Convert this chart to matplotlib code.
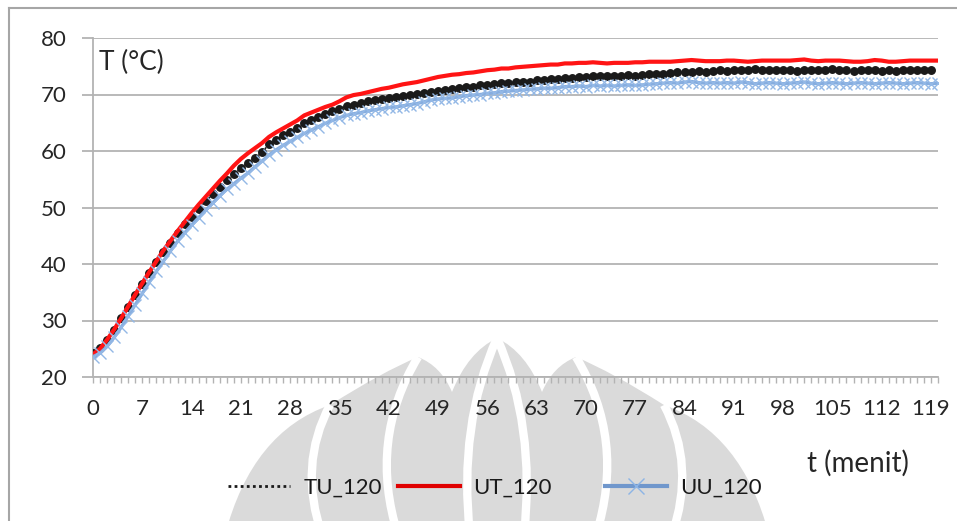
import matplotlib
matplotlib.use("Agg")
import matplotlib.pyplot as plt
from matplotlib.lines import Line2D
from matplotlib.patches import PathPatch
from matplotlib.path import Path
from matplotlib.ticker import FixedLocator, FuncFormatter

plt.rcParams['font.family'] = ['Lato', 'DejaVu Sans']

# Temperature readings (°C), one per minute
tu_120 = [
    24.2, 25.1, 26.6, 28.4, 30.4, 32.4, 34.5, 36.5, 38.4, 40.3,
    42.1, 43.8, 45.4, 47.0, 48.4, 49.8, 51.1, 52.4, 53.6, 54.8,
    55.9, 57.0, 57.9, 58.8, 59.8, 61.2, 62.0, 62.8, 63.4, 64.1,
    64.9, 65.4, 66.0, 66.5, 67.0, 67.5, 67.9, 68.2, 68.5, 68.8,
    69.0, 69.2, 69.4, 69.6, 69.8, 69.9, 70.1, 70.3, 70.5, 70.7,
    70.8, 71.0, 71.1, 71.3, 71.4, 71.6, 71.7, 71.9, 72.0, 72.1,
    72.2, 72.3, 72.3, 72.5, 72.6, 72.7, 72.8, 72.9, 73.0, 73.1,
    73.1, 73.2, 73.3, 73.3, 73.2, 73.3, 73.4, 73.3, 73.5, 73.6,
    73.7, 73.7, 73.8, 73.9, 73.9, 74.0, 74.1, 74.0, 74.2, 74.3,
    74.2, 74.3, 74.3, 74.4, 74.5, 74.3, 74.4, 74.3, 74.4, 74.3,
    74.2, 74.3, 74.4, 74.3, 74.4, 74.6, 74.4, 74.3, 74.2, 74.3,
    74.4, 74.3, 74.2, 74.3, 74.2, 74.3, 74.3, 74.4, 74.3, 74.4,
]
ut_120 = [
    24.0, 25.0, 26.6, 28.4, 30.4, 32.5, 34.6, 36.6, 38.6, 40.5,
    42.4, 44.1, 45.8, 47.4, 49.0, 50.5, 51.9, 53.3, 54.7, 56.0,
    57.4, 58.6, 59.6, 60.5, 61.4, 62.5, 63.3, 64.0, 64.7, 65.4,
    66.3, 66.8, 67.3, 67.8, 68.2, 68.8, 69.5, 69.9, 70.1, 70.4,
    70.7, 71.0, 71.2, 71.5, 71.8, 72.0, 72.2, 72.5, 72.8, 73.1,
    73.3, 73.5, 73.6, 73.8, 73.9, 74.1, 74.3, 74.4, 74.6, 74.6,
    74.8, 74.9, 75.0, 75.1, 75.2, 75.3, 75.3, 75.5, 75.5, 75.6,
    75.6, 75.7, 75.6, 75.5, 75.6, 75.6, 75.6, 75.7, 75.7, 75.8,
    75.8, 75.8, 75.8, 75.9, 76.0, 76.1, 76.0, 75.9, 75.9, 75.9,
    76.0, 76.0, 75.9, 75.8, 75.9, 76.0, 76.0, 76.0, 76.0, 76.0,
    76.1, 76.2, 76.0, 75.9, 76.0, 76.0, 76.0, 75.9, 75.8, 75.8,
    75.9, 76.1, 76.0, 75.8, 75.8, 75.9, 76.0, 76.0, 76.0, 76.0,
    76.0,
]
uu_120 = [
    23.6, 24.2, 25.4, 27.0, 28.8, 30.8, 32.8, 34.8, 36.8, 38.7,
    40.5, 42.3, 44.0, 45.5, 46.9, 48.2, 49.5, 50.8, 52.1, 53.2,
    54.2, 55.2, 56.1, 57.2, 58.2, 59.3, 60.2, 61.0, 61.7, 62.4,
    63.1, 63.7, 64.3, 64.9, 65.4, 65.9, 66.3, 66.6, 66.8, 67.1,
    67.3, 67.5, 67.7, 67.8, 68.0, 68.2, 68.4, 68.7, 69.0, 69.2,
    69.3, 69.4, 69.6, 69.8, 69.9, 70.0, 70.2, 70.3, 70.5, 70.6,
    70.7, 70.8, 70.9, 71.0, 71.1, 71.1, 71.2, 71.4, 71.4, 71.5,
    71.4, 71.6, 71.5, 71.6, 71.5, 71.6, 71.7, 71.6, 71.7, 71.8,
    71.9, 72.0, 72.1, 72.0, 72.2, 72.3, 72.1, 72.0, 72.1, 72.0,
    72.1, 72.0, 72.2, 72.1, 71.9, 72.0, 72.1, 72.0, 71.9, 72.0,
    72.1, 72.2, 72.0, 71.9, 72.0, 72.1, 72.0, 71.9, 72.0, 72.1,
    72.0, 71.9, 72.0, 72.1, 72.0, 71.9, 72.0, 72.1, 72.0, 71.9,
    72.0,
]
series_names = ['TU_120', 'UT_120', 'UU_120']
x_tick_step = 7
y_ticks = [20, 30, 40, 50, 60, 70, 80]

W, H = 957, 521
fig = plt.figure(figsize=(W / 100, H / 100), dpi=100)
fig.patch.set_facecolor('white')


def fx(px):
    return px / W


def fy(py):
    return 1 - py / H


def pix_path(points, codes):
    return Path([(fx(a), fy(b)) for a, b in points], codes)


# faint emblem in the background: petal silhouette with white separators
wm = '#dadada'
M, C, Z = Path.MOVETO, Path.CURVE3, Path.CLOSEPOLY
outline_pts = [
    (225, 535),
    (252, 432), (330, 405),
    (382, 372), (418, 357),
    (441, 366), (452, 392),
    (468, 352), (497, 338),
    (526, 352), (542, 392),
    (553, 366), (576, 357),
    (612, 372), (664, 405),
    (742, 432), (769, 535),
    (225, 535),
]
outline_codes = [M] + [C] * 16 + [Z]
fig.add_artist(PathPatch(pix_path(outline_pts, outline_codes), transform=fig.transFigure,
                         facecolor=wm, edgecolor='none', zorder=-3))
petal_strokes = [
    [(497, 338), (458, 425), (470, 535)],
    [(497, 338), (536, 425), (524, 535)],
    [(418, 357), (368, 440), (398, 535)],
    [(576, 357), (626, 440), (596, 535)],
    [(330, 405), (298, 465), (322, 535)],
    [(664, 405), (696, 465), (672, 535)],
]
for pts in petal_strokes:
    fig.add_artist(PathPatch(pix_path(pts, [M, C, C]), transform=fig.transFigure,
                             facecolor='none', edgecolor='white', lw=6, zorder=-2))

# chart area border
border = '#a6a6a6'
fig.add_artist(Line2D([fx(9), fx(9)], [fy(8), 0], transform=fig.transFigure,
                      color=border, lw=1.5))
fig.add_artist(Line2D([fx(9), 1], [fy(8), fy(8)], transform=fig.transFigure,
                      color=border, lw=1.5))

ax = fig.add_axes([fx(93), fy(377), fx(938) - fx(93), fy(38) - fy(377)])
ax.set_facecolor('none')

t_tu = list(range(len(tu_120)))
t_ut = list(range(len(ut_120)))
t_uu = list(range(len(uu_120)))

ax.plot(t_tu, tu_120, color='#1a1a1a', lw=1.2, ls=':', marker='o', ms=5.4,
        mec='#1a1a1a', mfc='#1a1a1a', zorder=3)
ax.plot(t_ut, ut_120, color='#ff1414', lw=3.0, solid_capstyle='round', zorder=4)
ax.plot(t_uu, uu_120, color='#86addf', lw=2.4, marker='x', ms=8.5, mew=1.0,
        mec='#93b8e6', zorder=5)

ax.set_xlim(0, 120)
ax.set_ylim(20, 80)

grid_c = '#b3b3b3'
txt_c = '#262626'
for s in ['top', 'right']:
    ax.spines[s].set_visible(False)
for s in ['left', 'bottom']:
    ax.spines[s].set_color(grid_c)
    ax.spines[s].set_linewidth(1.3)

ax.set_yticks(y_ticks)
ax.yaxis.grid(True, color=grid_c, lw=1.3)
ax.set_axisbelow(True)
ax.xaxis.set_major_locator(FixedLocator(list(range(0, 121))))
ax.xaxis.set_major_formatter(FuncFormatter(
    lambda v, pos: f'{int(round(v))}' if int(round(v)) % x_tick_step == 0 and v < 120 else ''))
ax.tick_params(axis='x', direction='out', length=4.5, width=1.0, color=grid_c,
               labelsize=16, labelcolor=txt_c, pad=11)
ax.tick_params(axis='y', direction='out', length=8, width=1.3, color=grid_c,
               labelsize=16, labelcolor=txt_c, pad=11)

ax.text(fx(100) - fx(93), 1 - (62 - 38) / (377 - 38), 'T (°C)', transform=ax.transAxes,
        fontsize=19, color=txt_c, va='center', ha='left')
fig.text(fx(807), fy(463), 't (menit)', fontsize=20, color=txt_c, va='center', ha='left')

handles = [
    Line2D([], [], color='#1a1a1a', lw=2.0, ls=(0, (1, 1.2))),
    Line2D([], [], color='#e00000', lw=3.0),
    Line2D([], [], color='#7097cc', lw=3.0, marker='x', ms=11, mew=1.0, mec='#8cb4e6'),
]
legend_x = [228, 398, 605]
for h, name, lx in zip(handles, series_names, legend_x):
    fig.legend([h], [name], loc='center left', bbox_to_anchor=(fx(lx), fy(488)),
               frameon=False, fontsize=16, handlelength=2.8, handletextpad=0.6,
               borderpad=0, borderaxespad=0, labelcolor='#1a1a1a')

fig.savefig('out.png', dpi=100, facecolor='white')
